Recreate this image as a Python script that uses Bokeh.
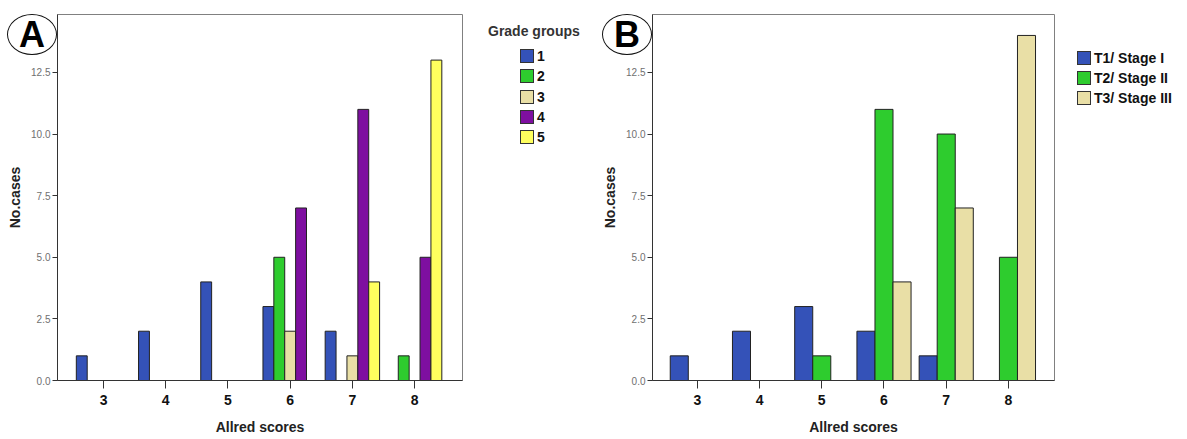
from bokeh.plotting import figure
from bokeh.layouts import row
from bokeh.models import FixedTicker, Div, PrintfTickFormatter, Range1d
from bokeh.embed import file_html
from bokeh.resources import INLINE

# ---------------- data ----------------
scores = [3, 4, 5, 6, 7, 8]

# Panel A: Grade groups
grade_names = ["1", "2", "3", "4", "5"]
grade_1 = [1, 2, 4, 3, 2, 0]
grade_2 = [0, 0, 0, 5, 0, 1]
grade_3 = [0, 0, 0, 2, 1, 0]
grade_4 = [0, 0, 0, 7, 11, 5]
grade_5 = [0, 0, 0, 0, 4, 13]
grade_colors = ["#3452B8", "#2ECC2E", "#E9DFA6", "#7E0FA0", "#FFFF5E"]

# Panel B: T stage
stage_names = ["T1/ Stage I", "T2/ Stage II", "T3/ Stage III"]
stage_1 = [1, 2, 3, 2, 1, 0]
stage_2 = [0, 0, 1, 11, 10, 5]
stage_3 = [0, 0, 0, 4, 7, 14]
stage_colors = ["#3452B8", "#2ECC2E", "#E9DFA6"]

y_ticks = [0, 2.5, 5.0, 7.5, 10.0, 12.5]

FONT = "Liberation Sans"
CSS_FONT = "'Liberation Sans',Arial,sans-serif"


def make_panel(series, colors, bar_w, left, right, width, bottom, x_lo, x_hi):
    p = figure(width=width, height=439, output_backend="svg",
               toolbar_location=None, tools="",
               x_range=Range1d(x_lo, x_hi), y_range=Range1d(0, 14.85),
               min_border_left=left, min_border_right=right,
               min_border_top=14, min_border_bottom=bottom)
    p.grid.visible = False
    p.outline_line_color = "#808080"
    p.outline_line_width = 1
    p.background_fill_color = "white"
    p.border_fill_color = "white"

    n = len(series)
    for i, (vals, col) in enumerate(zip(series, colors)):
        off = (i - (n - 1) / 2) * bar_w
        xs = [s + off for s, v in zip(scores, vals) if v > 0]
        tops = [v for v in vals if v > 0]
        p.vbar(x=xs, top=tops, bottom=0, width=bar_w, fill_color=col,
               line_color="#222222", line_width=1)

    # axes
    p.xaxis.ticker = FixedTicker(ticks=scores)
    p.xaxis.axis_label = "Allred scores"
    p.xaxis.axis_label_text_font = FONT
    p.xaxis.axis_label_text_font_style = "bold"
    p.xaxis.axis_label_text_font_size = "14px"
    p.xaxis.axis_label_text_color = "#222222"
    p.xaxis.axis_label_standoff = 11
    p.xaxis.major_label_text_font = FONT
    p.xaxis.major_label_text_font_style = "bold"
    p.xaxis.major_label_text_font_size = "14px"
    p.xaxis.major_label_text_color = "#111111"
    p.xaxis.major_label_standoff = 6
    p.xaxis.major_tick_out = 8
    p.xaxis.major_tick_in = 0
    p.xaxis.minor_tick_line_color = None
    p.xaxis.axis_line_color = "#333333"
    p.xaxis.major_tick_line_color = "#333333"

    p.yaxis.ticker = FixedTicker(ticks=y_ticks)
    p.yaxis.formatter = PrintfTickFormatter(format="%.1f")
    p.yaxis.axis_label = "No.cases"
    p.yaxis.axis_label_text_font = FONT
    p.yaxis.axis_label_text_font_style = "bold"
    p.yaxis.axis_label_text_font_size = "14px"
    p.yaxis.axis_label_text_color = "#222222"
    p.yaxis.axis_label_standoff = 5
    p.yaxis.major_label_text_font = FONT
    p.yaxis.major_label_text_font_size = "10px"
    p.yaxis.major_label_text_color = "#707070"
    p.yaxis.major_label_standoff = 2
    p.yaxis.major_tick_out = 5
    p.yaxis.major_tick_in = 0
    p.yaxis.minor_tick_line_color = None
    p.yaxis.axis_line_color = "#333333"
    p.yaxis.major_tick_line_color = "#333333"
    return p


def abs_div(html, left, top, w, h):
    return Div(text=html, width=w, height=h,
               styles={"position": "absolute", "left": f"{left}px",
                       "top": f"{top}px", "z-index": "10",
                       "margin": "0", "padding": "0"})


def letter_div(letter, left):
    inner = ('<div style="box-sizing:border-box;width:50px;height:41px;'
             'border:1.5px solid #111;border-radius:50%;background:white;'
             'display:flex;align-items:center;justify-content:center;'
             f'font-family:{CSS_FONT};'
             'font-weight:bold;font-size:36px;line-height:1;color:#000;">'
             + letter + '</div>')
    return abs_div(inner, left, 14, 50, 41)


def legend_div(names, colors, left, top, row_h, w):
    rows = []
    for name, col in zip(names, colors):
        rows.append(
            f'<div style="display:flex;align-items:center;height:{row_h}px;'
            'white-space:nowrap;">'
            '<span style="display:inline-block;box-sizing:border-box;'
            f'width:14px;height:14px;border:1px solid #333;background:{col};">'
            '</span>'
            f'<span style="margin-left:3px;font-family:{CSS_FONT};'
            'font-weight:bold;font-size:14px;line-height:1;color:#111;">'
            f'{name}</span></div>')
    return abs_div("".join(rows), left, top, w, int(row_h * len(names)) + 1)


def text_div(text, left, top, w):
    inner = (f'<div style="font-family:{CSS_FONT};font-weight:bold;'
             'font-size:14px;line-height:16px;color:#333;white-space:nowrap;">'
             + text + '</div>')
    return abs_div(inner, left, top, w, 16)


pa = make_panel([grade_1, grade_2, grade_3, grade_4, grade_5], grade_colors,
                0.175, left=57, right=131, width=593, bottom=58,
                x_lo=2.26, x_hi=8.77)

pb = make_panel([stage_1, stage_2, stage_3], stage_colors,
                0.29, left=59, right=133, width=594, bottom=59,
                x_lo=2.28, x_hi=8.74)

layout = row(pa, pb,
             letter_div("A", 7), letter_div("B", 602),
             text_div("Grade groups", 488, 23, 96),
             legend_div(grade_names, grade_colors, 520, 46, 20.25, 40),
             legend_div(stage_names, stage_colors, 1077, 48, 20, 108))
open("out.html", "w").write(file_html(layout, INLINE))
